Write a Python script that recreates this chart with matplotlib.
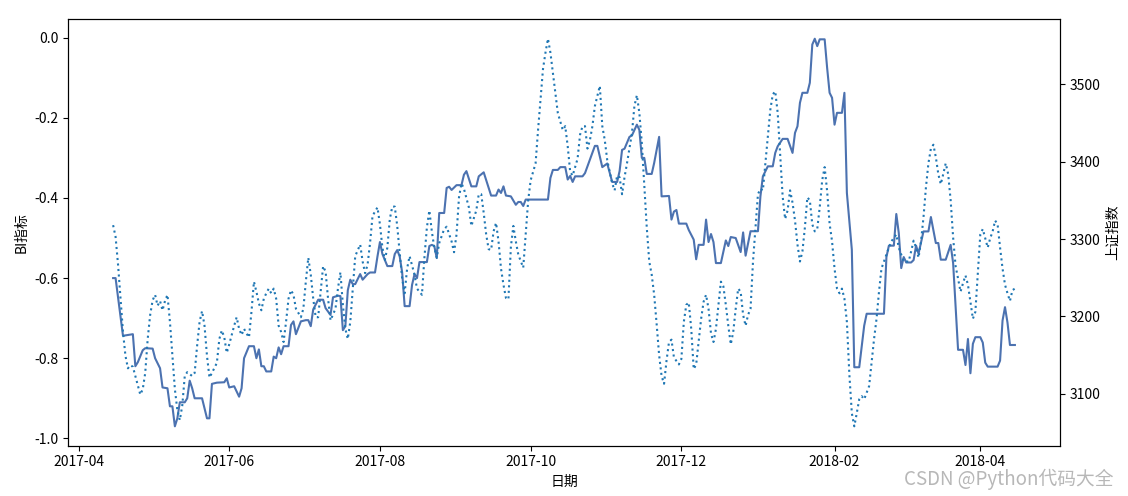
import matplotlib
matplotlib.use("Agg")
import matplotlib.pyplot as plt
import matplotlib.dates as mdates
import pandas as pd

plt.rcParams["font.family"] = ["Noto Sans CJK SC", "DejaVu Sans"]
plt.rcParams["axes.unicode_minus"] = False

START = pd.Timestamp("2017-04-01")

# BI指标 (左轴) - 距 START 的天数 / 数值
bi_day = [14, 15, 18, 22, 23, 24, 26, 27, 30, 31, 33, 34, 36, 37, 38, 39, 40, 41, 43, 44,
          45, 46, 47, 50, 52, 53, 54, 56, 59, 60, 61, 63, 65, 66, 67, 69, 71, 72, 73, 74,
          75, 76, 78, 79, 80, 81, 82, 83, 85, 86, 87, 88, 90, 92, 93, 94, 95, 97, 99, 100,
          102, 103, 105, 106, 107, 108, 109, 110, 111, 112, 114, 115, 117, 118, 120, 121, 122, 123, 125, 127,
          128, 129, 130, 131, 132, 134, 135, 136, 137, 138, 141, 142, 143, 144, 145, 146, 148, 149, 150, 151,
          153, 155, 156, 157, 159, 161, 162, 164, 167, 169, 170, 171, 172, 173, 175, 177, 178, 179, 180, 181,
          190, 191, 192, 194, 195, 197, 198, 199, 200, 201, 204, 205, 207, 209, 210, 212, 214, 216, 218, 219,
          220, 221, 223, 224, 226, 227, 228, 229, 230, 232, 233, 235, 236, 239, 240, 241, 242, 243, 246, 247,
          249, 250, 251, 253, 254, 255, 256, 257, 258, 260, 262, 263, 264, 266, 268, 269, 270, 272, 275, 276,
          277, 279, 281, 282, 283, 285, 287, 289, 290, 291, 292, 293, 295, 296, 297, 298, 299, 300, 302, 303,
          304, 305, 306, 307, 309, 310, 311, 313, 314, 316, 318, 319, 326, 327, 328, 330, 331, 332, 333, 334,
          335, 337, 338, 339, 340, 342, 344, 345, 347, 348, 349, 351, 353, 354, 356, 358, 359, 360, 361, 362,
          363, 365, 366, 367, 368, 372, 373, 374, 375, 376, 377, 379]
bi_val = [-0.60, -0.60, -0.744, -0.74, -0.82, -0.81, -0.78, -0.775, -0.776, -0.80, -0.825, -0.873, -0.875, -0.92, -0.92, -0.97, -0.95, -0.91, -0.91, -0.90,
          -0.856, -0.875, -0.90, -0.90, -0.95, -0.95, -0.864, -0.861, -0.86, -0.85, -0.873, -0.87, -0.896, -0.875, -0.80, -0.77, -0.77, -0.80, -0.778, -0.82,
          -0.82, -0.833, -0.833, -0.796, -0.80, -0.773, -0.79, -0.77, -0.77, -0.717, -0.708, -0.74, -0.708, -0.705, -0.705, -0.72, -0.678, -0.654, -0.654, -0.675,
          -0.692, -0.648, -0.644, -0.645, -0.73, -0.72, -0.63, -0.604, -0.615, -0.615, -0.59, -0.604, -0.59, -0.586, -0.586, -0.546, -0.51, -0.54, -0.57, -0.57,
          -0.54, -0.53, -0.546, -0.586, -0.67, -0.67, -0.617, -0.59, -0.60, -0.56, -0.56, -0.52, -0.517, -0.52, -0.55, -0.4375, -0.4375, -0.375, -0.372, -0.38,
          -0.368, -0.368, -0.342, -0.333, -0.371, -0.371, -0.346, -0.336, -0.394, -0.394, -0.379, -0.3875, -0.371, -0.394, -0.396, -0.417, -0.41, -0.41, -0.42, -0.404,
          -0.404, -0.35, -0.33, -0.33, -0.323, -0.323, -0.354, -0.345, -0.36, -0.346, -0.346, -0.338, -0.304, -0.27, -0.27, -0.323, -0.314, -0.36, -0.36, -0.333,
          -0.28, -0.277, -0.2475, -0.244, -0.217, -0.23, -0.30, -0.30, -0.34, -0.34, -0.3125, -0.2475, -0.396, -0.395, -0.454, -0.434, -0.43, -0.464, -0.464, -0.48,
          -0.504, -0.553, -0.517, -0.517, -0.454, -0.51, -0.49, -0.51, -0.5625, -0.5625, -0.506, -0.52, -0.4975, -0.50, -0.535, -0.486, -0.544, -0.483, -0.483, -0.396,
          -0.346, -0.321, -0.321, -0.2875, -0.271, -0.2525, -0.2525, -0.2875, -0.2375, -0.221, -0.1625, -0.1375, -0.1375, -0.1125, -0.017, -0.0025, -0.021, -0.004, -0.004, -0.075,
          -0.1375, -0.15, -0.217, -0.1875, -0.1875, -0.1375, -0.3875, -0.529, -0.8225, -0.8225, -0.719, -0.689, -0.689, -0.5475, -0.519, -0.519, -0.44, -0.4875, -0.575, -0.5475,
          -0.561, -0.561, -0.555, -0.519, -0.539, -0.4835, -0.4835, -0.4475, -0.5125, -0.5125, -0.554, -0.554, -0.517, -0.5625, -0.779, -0.779, -0.817, -0.752, -0.8375, -0.764,
          -0.7475, -0.7475, -0.761, -0.811, -0.821, -0.821, -0.806, -0.706, -0.6725, -0.711, -0.767, -0.767]

# 上证指数 (右轴)
sh_day = [14, 15, 16, 17, 18, 19, 20, 21, 22, 25, 26, 27, 28, 29, 30, 31, 32, 33, 34, 35,
          36, 37, 38, 39, 40, 41, 42, 43, 44, 46, 47, 48, 49, 50, 51, 52, 53, 54, 56, 57,
          58, 59, 60, 61, 63, 64, 65, 66, 67, 68, 69, 70, 71, 72, 73, 74, 75, 76, 77, 78,
          79, 80, 81, 82, 83, 84, 85, 86, 87, 88, 90, 91, 92, 93, 94, 95, 96, 97, 98, 99,
          100, 101, 102, 104, 105, 106, 107, 108, 109, 110, 111, 112, 114, 115, 116, 117, 118, 119, 121, 122,
          123, 124, 125, 126, 127, 128, 129, 130, 131, 132, 133, 134, 136, 137, 139, 140, 141, 142, 143, 144,
          145, 146, 148, 149, 151, 152, 153, 154, 155, 156, 158, 159, 161, 162, 163, 164, 165, 166, 167, 168,
          169, 170, 171, 172, 173, 174, 175, 176, 177, 178, 180, 181, 182, 183, 184, 185, 186, 187, 188, 189,
          190, 191, 192, 193, 194, 196, 197, 198, 199, 200, 202, 203, 204, 205, 206, 207, 208, 209, 211, 212,
          213, 214, 216, 217, 218, 219, 220, 221, 222, 224, 225, 226, 227, 228, 229, 230, 231, 232, 233, 234,
          235, 236, 237, 238, 239, 240, 241, 243, 244, 245, 246, 247, 248, 249, 250, 251, 252, 253, 254, 255,
          256, 257, 258, 259, 260, 261, 262, 263, 264, 265, 266, 267, 268, 269, 270, 271, 272, 273, 274, 275,
          276, 277, 278, 279, 280, 281, 282, 283, 284, 285, 286, 287, 288, 289, 290, 291, 292, 293, 294, 295,
          296, 297, 298, 299, 300, 301, 302, 303, 304, 305, 306, 307, 308, 309, 310, 311, 312, 313, 314, 315,
          316, 317, 318, 320, 321, 322, 323, 324, 325, 327, 328, 329, 331, 332, 333, 334, 336, 337, 338, 339,
          340, 341, 342, 343, 344, 345, 346, 347, 348, 349, 350, 351, 352, 353, 354, 355, 356, 357, 358, 359,
          360, 361, 362, 363, 364, 365, 366, 367, 368, 369, 370, 371, 372, 373, 374, 375, 376, 377, 378, 379]
sh_val = [3318, 3303, 3267, 3223, 3180, 3149, 3133, 3137, 3135, 3099, 3106, 3127, 3171, 3202, 3221, 3228, 3214, 3220, 3208, 3220,
          3228, 3193, 3149, 3106, 3079, 3066, 3085, 3123, 3128, 3123, 3127, 3162, 3193, 3207, 3188, 3149, 3121, 3127, 3140, 3171,
          3182, 3173, 3153, 3164, 3188, 3199, 3184, 3176, 3184, 3178, 3173, 3206, 3245, 3232, 3217, 3208, 3223, 3230, 3236, 3230,
          3236, 3223, 3188, 3180, 3167, 3193, 3223, 3234, 3228, 3210, 3199, 3210, 3245, 3276, 3254, 3223, 3199, 3199, 3232, 3265,
          3258, 3223, 3195, 3210, 3236, 3257, 3215, 3184, 3171, 3193, 3236, 3278, 3293, 3271, 3256, 3267, 3295, 3330, 3341, 3319,
          3289, 3273, 3289, 3326, 3342, 3342, 3317, 3282, 3249, 3230, 3262, 3278, 3254, 3236, 3228, 3276, 3315, 3337, 3310, 3289,
          3276, 3295, 3313, 3316, 3297, 3283, 3306, 3354, 3372, 3365, 3341, 3317, 3337, 3358, 3358, 3334, 3306, 3287, 3286, 3310,
          3321, 3297, 3262, 3241, 3224, 3222, 3290, 3317, 3297, 3280, 3263, 3306, 3350, 3376, 3387, 3398, 3441, 3480, 3520, 3541,
          3559, 3541, 3515, 3489, 3463, 3441, 3446, 3420, 3387, 3382, 3404, 3435, 3446, 3446, 3417, 3428, 3446, 3472, 3498, 3446,
          3428, 3402, 3372, 3363, 3382, 3380, 3358, 3380, 3398, 3437, 3472, 3486, 3463, 3424, 3370, 3315, 3271, 3254, 3228, 3190,
          3150, 3123, 3113, 3143, 3167, 3170, 3147, 3138, 3145, 3193, 3215, 3218, 3184, 3132, 3138, 3167, 3197, 3219, 3228, 3210,
          3178, 3167, 3184, 3215, 3245, 3239, 3215, 3188, 3164, 3180, 3210, 3236, 3232, 3202, 3188, 3202, 3210, 3271, 3315, 3358,
          3365, 3363, 3398, 3432, 3467, 3487, 3491, 3463, 3410, 3355, 3326, 3337, 3363, 3347, 3324, 3293, 3271, 3284, 3315, 3354,
          3350, 3319, 3310, 3313, 3341, 3376, 3393, 3362, 3320, 3297, 3262, 3236, 3230, 3236, 3223, 3193, 3125, 3075, 3058, 3075,
          3093, 3097, 3093, 3110, 3141, 3171, 3197, 3232, 3262, 3280, 3289, 3297, 3306, 3289, 3280, 3271, 3271, 3284, 3298, 3289,
          3276, 3297, 3328, 3367, 3398, 3417, 3422, 3406, 3384, 3371, 3384, 3398, 3384, 3350, 3302, 3265, 3249, 3232, 3243, 3253,
          3241, 3219, 3197, 3206, 3255, 3306, 3313, 3301, 3289, 3301, 3310, 3324, 3319, 3289, 3262, 3241, 3230, 3220, 3234, 3236]

bi_dates = START + pd.to_timedelta(bi_day, unit="D")
sh_dates = START + pd.to_timedelta(sh_day, unit="D")

fig, ax = plt.subplots(figsize=(11.28, 4.96), dpi=100)
fig.subplots_adjust(left=0.0603, right=0.9397, top=0.961, bottom=0.1014)

ax.plot(bi_dates, bi_val, color="#4C72B0", lw=1.5)
ax.set_xlabel("日期")
ax.set_ylabel("BI指标")

ax2 = ax.twinx()
ax2.plot(sh_dates, sh_val, color="#1f77b4", lw=1.5, ls=":")
ax2.set_ylabel("上证指数")

ax.xaxis.set_major_locator(mdates.MonthLocator(bymonth=[2, 4, 6, 8, 10, 12]))
ax.xaxis.set_major_formatter(mdates.DateFormatter("%Y-%m"))

# 水印
fig.text(0.987, 0.012, "CSDN @Python代码大全", ha="right", va="bottom",
         fontsize=13.5, color="#b0b0b0", alpha=0.9)

fig.savefig("out.png", dpi=100)
